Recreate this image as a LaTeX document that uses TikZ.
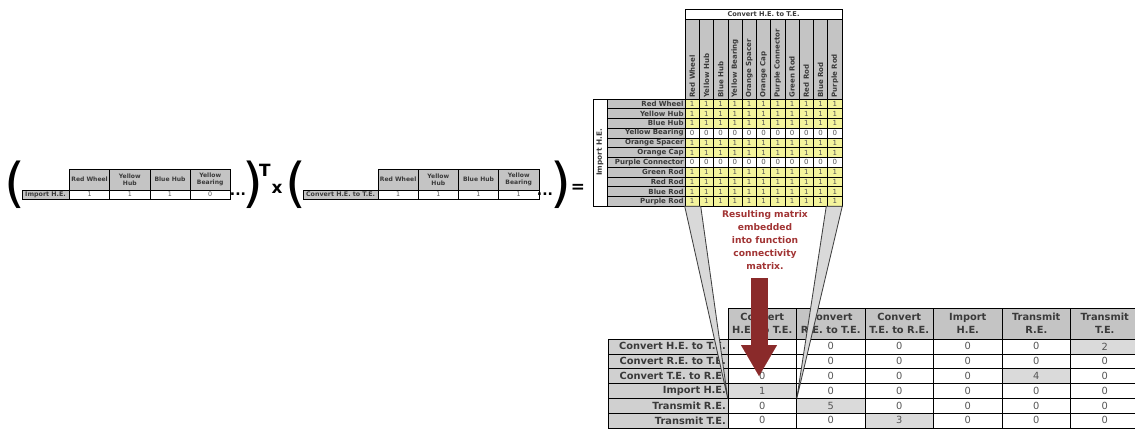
\documentclass[tikz,border=0pt]{standalone}
\usepackage{fontspec}
\setmainfont{DejaVu Sans}
\usepackage{xcolor}
\usepackage{tikz}
\usetikzlibrary{arrows.meta,calc}

\definecolor{hdrgray}{HTML}{C4C4C4}
\definecolor{lblgray}{HTML}{D0D0D0}
\definecolor{hitgray}{HTML}{DADADA}
\definecolor{cellyel}{HTML}{F4F49C}
\definecolor{txtgray}{HTML}{3A3A3A}
\definecolor{numgray}{HTML}{555555}
\definecolor{darkred}{HTML}{8A2A2A}
\definecolor{notered}{HTML}{A13434}

\begin{document}
\begin{tikzpicture}[x=0.025cm, y=-0.025cm,
  hd/.style={draw, line width=0.4pt, fill=hdrgray, text=txtgray, inner sep=0pt, align=center},
  val/.style={draw, line width=0.4pt, inner sep=0pt, text=numgray},
  vhead/.style={hd, minimum width=28.6pt, minimum height=14.9pt, font=\bfseries\fontsize{4.3}{4.8}\selectfont},
  vlbl/.style={hd, minimum height=6.4pt, font=\bfseries\fontsize{4.5}{5}\selectfont},
  vcell/.style={val, minimum width=28.6pt, minimum height=6.4pt, font=\fontsize{4.5}{5}\selectfont},
  sym/.style={inner sep=0pt, font=\bfseries\fontsize{#1}{#1}\selectfont},
  paren/.style={inner sep=0pt, font=\fontsize{38}{38}\selectfont},
  mtop/.style={draw, line width=0.4pt, inner sep=0pt, text=txtgray, minimum width=111.7pt, minimum height=7.1pt, font=\bfseries\fontsize{4.7}{5}\selectfont},
  mcol/.style={hd, rotate=90, inner xsep=1.1pt, text width=54.8pt, minimum height=10.15pt, align=left, font=\bfseries\fontsize{5}{5}\selectfont},
  mlbl/.style={hd, inner xsep=1pt, text width=53.5pt, minimum height=6.92pt, align=right, font=\bfseries\fontsize{5}{5}\selectfont},
  mcell/.style={val, minimum width=10.15pt, minimum height=6.92pt, font=\fontsize{5}{5}\selectfont},
  mside/.style={draw, line width=0.4pt, fill=white, rotate=90, inner sep=0pt, minimum width=76.1pt, minimum height=9.96pt, text=txtgray, font=\bfseries\fontsize{5.2}{5.5}\selectfont},
  thead/.style={hd, minimum width=48.7pt, minimum height=22pt, font=\bfseries\fontsize{7}{9}\selectfont},
  tlbl/.style={hd, fill=lblgray, inner xsep=1.5pt, text width=82.4pt, minimum height=10.53pt, align=right, font=\bfseries\fontsize{7}{7}\selectfont},
  tcell/.style={val, minimum width=48.7pt, minimum height=10.53pt, font=\fontsize{7}{7}\selectfont},
  wedge/.style={draw=black!75, line width=0.6pt, fill=black!15},
  note/.style={align=center, text=notered, font=\bfseries\fontsize{6.5}{9.25}\selectfont},
  bigarr/.style={draw=darkred, line width=12.1pt, -{Triangle[width=25.6pt, length=22pt, line width=0.1pt]}}
]
  \useasboundingbox (0,0) rectangle (1135,428);

  % first row vector
  \node[paren] (a-open) at (15,185) {(};
  \node[vlbl, minimum width=33.4pt] (a-lbl) at (45.5,194.5) {Import H.E.};
  \foreach \h/\v [count=\i] in {Red Wheel/1,Yellow\\Hub/1,Blue Hub/1,Yellow\\Bearing/0} {
    \node[vhead] (a-h\i) at (49.4+40.2*\i,179.5) {\h};
    \node[vcell] (a-v\i) at (49.4+40.2*\i,194.5) {\v};
  }
  \node[sym=10] (a-dots) at (238,194) {...};
  \node[paren] (a-close) at (253,185) {)};
  \node[sym=12] (a-sup) at (265,170) {T};
  \node[sym=12] (times) at (277,189) {x};

  % second row vector
  \node[paren] (b-open) at (296,185) {(};
  \node[vlbl, minimum width=53.4pt] (b-lbl) at (340.5,194.5) {Convert H.E. to T.E.};
  \foreach \h [count=\i] in {Red Wheel,Yellow\\Hub,Blue Hub,Yellow\\Bearing} {
    \node[vhead] (b-h\i) at (357.9+40.2*\i,179.5) {\h};
    \node[vcell] (b-v\i) at (357.9+40.2*\i,194.5) {1};
  }
  \node[sym=10] (b-dots) at (545,194) {...};
  \node[paren] (b-close) at (561,185) {)};
  \node[sym=12] (equals) at (578,188) {=};

  % resulting matrix
  \node[mtop] (m-top) at (763.5,14) {Convert H.E. to T.E.};
  \foreach \c [count=\i] in {Red Wheel,Yellow Hub,Blue Hub,Yellow Bearing,Orange Spacer,Orange Cap,Purple Connector,Green Rod,Red Rod,Blue Rod,Purple Rod}
    \node[mcol] (m-c\i) at (677.865+14.27*\i,59) {\c};
  \node[mside] (m-side) at (600,152.5) {Import H.E.};
  \foreach \r/\v [count=\j] in {Red Wheel/1,Yellow Hub/1,Blue Hub/1,Yellow Bearing/0,Orange Spacer/1,Orange Cap/1,Purple Connector/0,Green Rod/1,Red Rod/1,Blue Rod/1,Purple Rod/1} {
    \node[mlbl] (m-r\j) at (646,94.135+9.73*\j) {\r};
    \ifnum\v>0 \def\cf{cellyel}\else\def\cf{white}\fi
    \foreach \i in {1,...,11}
      \node[mcell, fill=\cf] (m-\j-\i) at (677.865+14.27*\i,94.135+9.73*\j) {\v};
  }

  % function connectivity matrix
  \foreach \h [count=\i] in {Convert\\H.E. to T.E.,Convert\\R.E. to T.E.,Convert\\T.E. to R.E.,Import\\H.E.,Transmit\\R.E.,Transmit\\T.E.}
    \node[thead] (t-h\i) at (693.75+68.5*\i,323.5) {\h};
  \foreach \r [count=\j] in {Convert H.E. to T.E.,Convert R.E. to T.E.,Convert T.E. to R.E.,Import H.E.,Transmit R.E.,Transmit T.E.}
    \node[tlbl] (t-r\j) at (668,331.6+14.8*\j) {\r};
  \foreach \row [count=\j] in {{0,0,0,0,0,2},{0,0,0,0,0,0},{0,0,0,0,4,0},{1,0,0,0,0,0},{0,5,0,0,0,0},{0,0,3,0,0,0}}
    \foreach \v [count=\i] in \row {
      \ifnum\v>0 \def\cf{hitgray}\else\def\cf{white}\fi
      \node[tcell, fill=\cf] (t-\j-\i) at (693.75+68.5*\i,331.6+14.8*\j) {\v};
    }

  % funnel and arrow
  \draw[wedge] (m-11-1.south west) -- ++(16,0) -- (t-4-1.south west) -- cycle;
  \draw[wedge] (m-11-11.south east) -- ++(-16,0) -- (t-4-1.south east) -- cycle;
  \node[note] (note) at (765,240.5) {Resulting matrix\\embedded\\into function\\connectivity\\matrix.};
  \coordinate (arrtop) at (759,278);
  \draw[bigarr] (arrtop) -- (arrtop |- t-3-1.center);
\end{tikzpicture}
\end{document}
